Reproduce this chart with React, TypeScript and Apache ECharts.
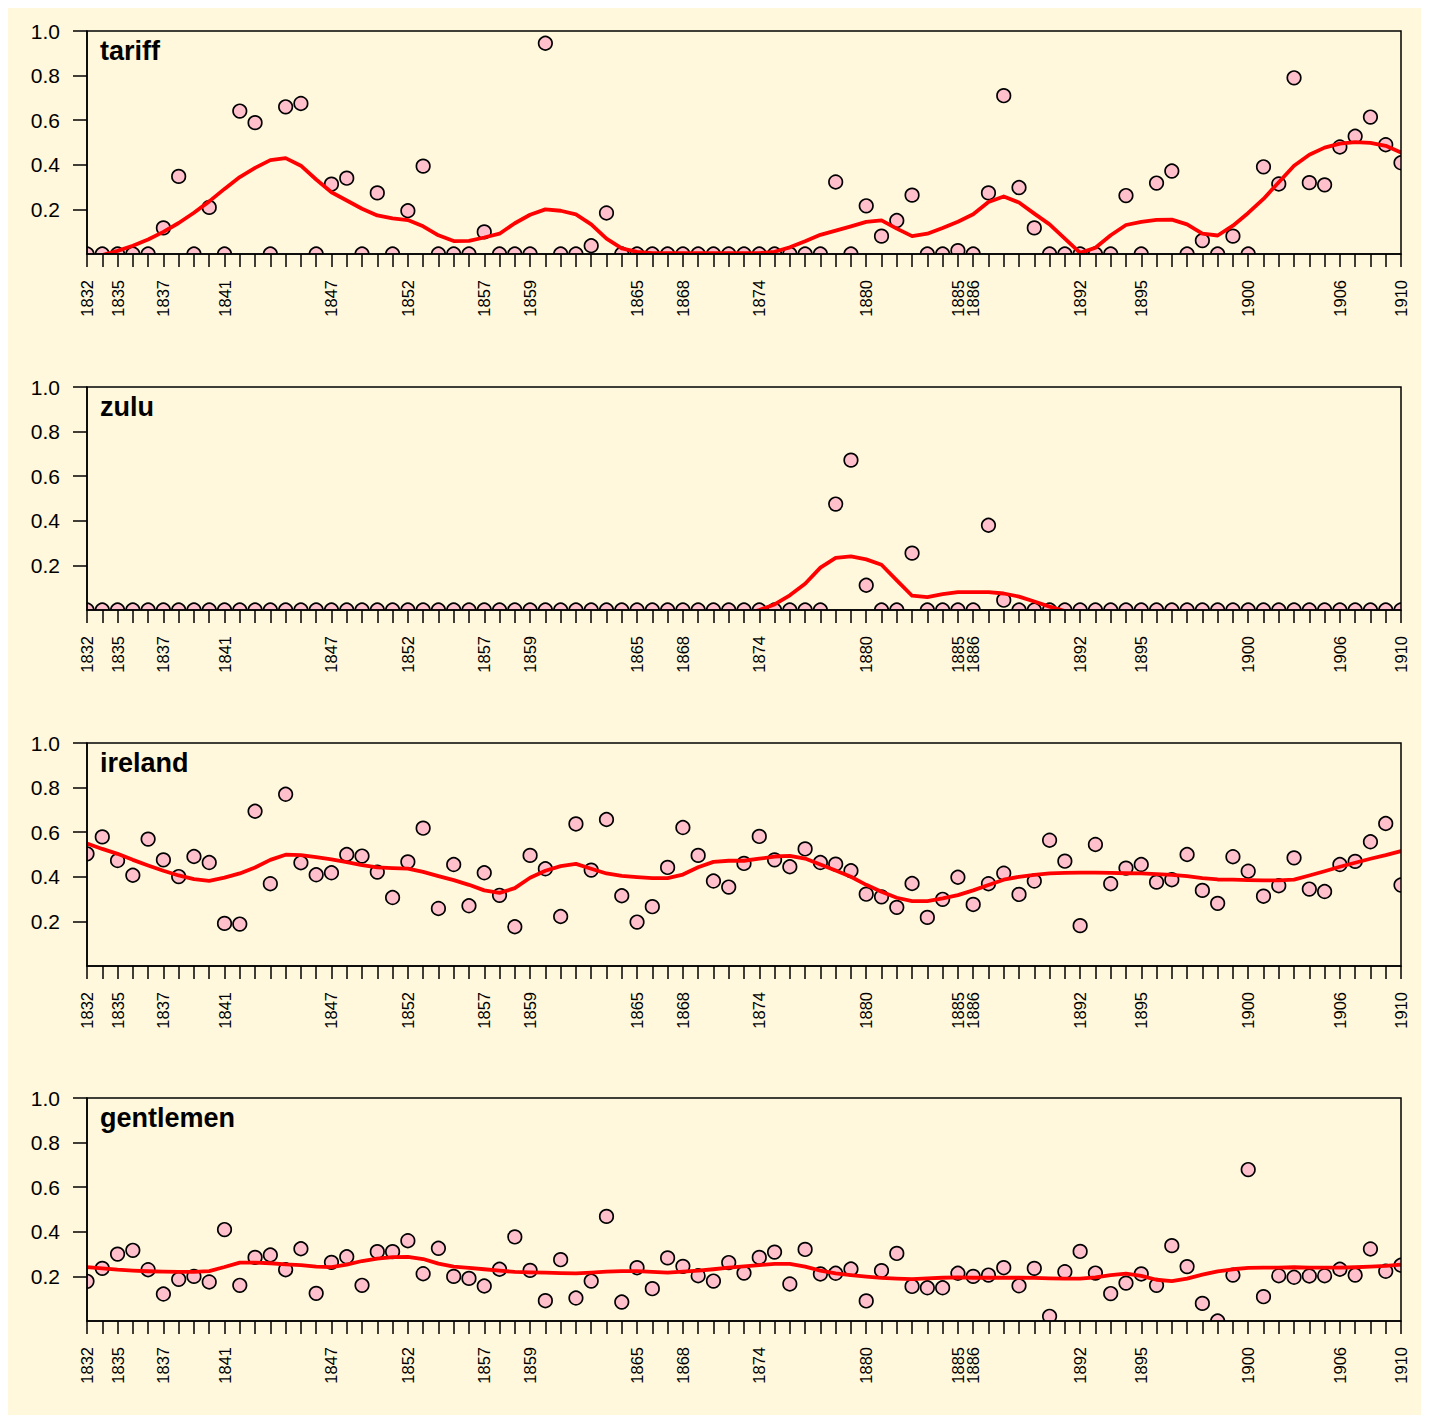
import React, { useEffect, useRef } from "react";
import * as echarts from "echarts";

// x positions: 87 sessions, labelled at these indices
const labelIdx = [0, 2, 5, 9, 16, 21, 26, 29, 36, 39, 44, 51, 57, 58, 65, 69, 76, 82, 86];
const labelYears = ["1832", "1835", "1837", "1841", "1847", "1852", "1857", "1859", "1865", "1868", "1874", "1880", "1885", "1886", "1892", "1895", "1900", "1906", "1910"];
const nSessions = 87;

const panelNames = ["tariff", "zulu", "ireland", "gentlemen"];
const yTicks = [0.2, 0.4, 0.6, 0.8, 1.0];

const tariffPts = [
  0, 0, 0, 0, 0, 0.117, 0.348, 0, 0.209, 0,
  0.641, 0.589, 0, 0.66, 0.675, 0, 0.313, 0.34, 0, 0.274,
  0, 0.194, 0.394, 0, 0, 0, 0.099, 0, 0, 0,
  0.945, 0, 0, 0.037, 0.184, 0, 0, 0, 0, 0,
  0, 0, 0, 0, 0, 0, 0, 0, 0, 0.323,
  0, 0.216, 0.08, 0.15, 0.264, 0, 0, 0.015, 0, 0.274,
  0.71, 0.298, 0.117, 0, 0, 0, 0, 0, 0.262, 0,
  0.318, 0.372, 0, 0.06, 0, 0.08, 0, 0.391, 0.314, 0.79,
  0.32, 0.31, 0.48, 0.528, 0.614, 0.49, 0.409,
];
const tariffFit = [
  -0.02, -0.005, 0.014, 0.037, 0.065, 0.099, 0.139, 0.185, 0.236, 0.292,
  0.345, 0.386, 0.421, 0.43, 0.396, 0.334, 0.277, 0.24, 0.203, 0.173,
  0.16, 0.152, 0.124, 0.084, 0.058, 0.059, 0.074, 0.091, 0.138, 0.176,
  0.2, 0.194, 0.178, 0.133, 0.069, 0.025, 0.01, 0.004, 0.004, 0.004,
  0.004, 0.004, 0.004, 0.004, 0.004, 0.01, 0.03, 0.057, 0.086, 0.105,
  0.124, 0.144, 0.151, 0.114, 0.08, 0.091, 0.117, 0.145, 0.178, 0.233,
  0.258, 0.231, 0.181, 0.133, 0.069, 0.005, 0.028, 0.084, 0.13, 0.144,
  0.153, 0.154, 0.133, 0.091, 0.083, 0.127, 0.184, 0.247, 0.322, 0.396,
  0.445, 0.477, 0.495, 0.502, 0.498, 0.485, 0.455,
];

const zuluPts = [
  0, 0, 0, 0, 0, 0, 0, 0, 0, 0,
  0, 0, 0, 0, 0, 0, 0, 0, 0, 0,
  0, 0, 0, 0, 0, 0, 0, 0, 0, 0,
  0, 0, 0, 0, 0, 0, 0, 0, 0, 0,
  0, 0, 0, 0, 0, 0, 0, 0, 0, 0.475,
  0.672, 0.111, 0, 0, 0.255, 0, 0, 0, 0, 0.38,
  0.044, 0, 0, 0, 0, 0, 0, 0, 0, 0,
  0, 0, 0, 0, 0, 0, 0, 0, 0, 0,
  0, 0, 0, 0, 0, 0, 0,
];
const zuluFit = [
  -0.02, -0.02, -0.02, -0.02, -0.02, -0.02, -0.02, -0.02, -0.02, -0.02,
  -0.02, -0.02, -0.02, -0.02, -0.02, -0.02, -0.02, -0.02, -0.02, -0.02,
  -0.02, -0.02, -0.02, -0.02, -0.02, -0.02, -0.02, -0.02, -0.02, -0.02,
  -0.02, -0.02, -0.02, -0.02, -0.02, -0.02, -0.02, -0.02, -0.02, -0.02,
  -0.02, -0.02, -0.02, -0.02, 0, 0.025, 0.066, 0.118, 0.19, 0.234,
  0.24, 0.227, 0.203, 0.133, 0.064, 0.058, 0.071, 0.08, 0.08, 0.08,
  0.074, 0.06, 0.038, 0.015, -0.005, -0.02, -0.02, -0.02, -0.02, -0.02,
  -0.02, -0.02, -0.02, -0.02, -0.02, -0.02, -0.02, -0.02, -0.02, -0.02,
  -0.02, -0.02, -0.02, -0.02, -0.02, -0.02, -0.02,
];

const irelandPts = [
  0.503, 0.579, 0.473, 0.407, 0.569, 0.476, 0.401, 0.491, 0.464, 0.191,
  0.188, 0.694, 0.369, 0.77, 0.463, 0.409, 0.418, 0.5, 0.493, 0.421,
  0.307, 0.467, 0.618, 0.258, 0.455, 0.27, 0.418, 0.317, 0.176, 0.496,
  0.436, 0.222, 0.637, 0.43, 0.657, 0.315, 0.197, 0.266, 0.442, 0.621,
  0.496, 0.381, 0.354, 0.46, 0.581, 0.476, 0.445, 0.525, 0.464, 0.457,
  0.427, 0.322, 0.31, 0.263, 0.37, 0.218, 0.299, 0.398, 0.276, 0.369,
  0.416, 0.321, 0.381, 0.564, 0.47, 0.181, 0.545, 0.369, 0.439, 0.455,
  0.376, 0.387, 0.5, 0.339, 0.281, 0.49, 0.425, 0.313, 0.36, 0.485,
  0.345, 0.334, 0.455, 0.469, 0.557, 0.639, 0.363,
];
const irelandFit = [
  0.549, 0.525, 0.503, 0.476, 0.451, 0.427, 0.406, 0.39, 0.382, 0.396,
  0.415, 0.442, 0.476, 0.499, 0.497, 0.488, 0.478, 0.466, 0.452, 0.442,
  0.439, 0.437, 0.422, 0.403, 0.385, 0.364, 0.339, 0.328, 0.349, 0.396,
  0.427, 0.448, 0.458, 0.436, 0.415, 0.404, 0.399, 0.394, 0.394, 0.41,
  0.443, 0.467, 0.472, 0.472, 0.481, 0.491, 0.494, 0.482, 0.455, 0.428,
  0.4, 0.364, 0.333, 0.306, 0.291, 0.291, 0.303, 0.318, 0.339, 0.363,
  0.387, 0.4, 0.409, 0.415, 0.418, 0.419, 0.419, 0.418, 0.416, 0.415,
  0.412, 0.409, 0.403, 0.394, 0.388, 0.387, 0.385, 0.384, 0.384, 0.387,
  0.406, 0.425, 0.445, 0.463, 0.481, 0.497, 0.515,
];

const gentlemenPts = [
  0.178, 0.236, 0.3, 0.317, 0.23, 0.121, 0.187, 0.2, 0.175, 0.41,
  0.16, 0.285, 0.296, 0.23, 0.324, 0.124, 0.263, 0.288, 0.16, 0.311,
  0.311, 0.36, 0.212, 0.326, 0.2, 0.191, 0.157, 0.232, 0.377, 0.227,
  0.091, 0.275, 0.103, 0.179, 0.469, 0.085, 0.239, 0.145, 0.283, 0.245,
  0.203, 0.179, 0.262, 0.215, 0.285, 0.309, 0.166, 0.321, 0.211, 0.214,
  0.233, 0.09, 0.226, 0.303, 0.155, 0.149, 0.149, 0.214, 0.2, 0.206,
  0.239, 0.158, 0.236, 0.021, 0.221, 0.312, 0.215, 0.123, 0.17, 0.211,
  0.16, 0.338, 0.244, 0.079, 0.0, 0.206, 0.679, 0.109, 0.203, 0.196,
  0.202, 0.203, 0.232, 0.206, 0.323, 0.223, 0.25,
];
const gentlemenFit = [
  0.242, 0.236, 0.23, 0.226, 0.223, 0.221, 0.22, 0.22, 0.224, 0.242,
  0.262, 0.262, 0.259, 0.254, 0.251, 0.244, 0.242, 0.253, 0.269, 0.28,
  0.286, 0.288, 0.278, 0.257, 0.244, 0.238, 0.232, 0.226, 0.22, 0.218,
  0.217, 0.215, 0.214, 0.217, 0.221, 0.224, 0.224, 0.22, 0.217, 0.221,
  0.226, 0.232, 0.239, 0.245, 0.251, 0.256, 0.256, 0.244, 0.226, 0.214,
  0.206, 0.199, 0.193, 0.19, 0.188, 0.191, 0.194, 0.196, 0.194, 0.194,
  0.194, 0.194, 0.193, 0.191, 0.19, 0.19, 0.196, 0.206, 0.212, 0.202,
  0.185, 0.179, 0.19, 0.208, 0.223, 0.232, 0.238, 0.239, 0.239, 0.241,
  0.239, 0.239, 0.239, 0.241, 0.244, 0.247, 0.253,
];

const panelPts = [tariffPts, zuluPts, irelandPts, gentlemenPts];
const panelFit = [tariffFit, zuluFit, irelandFit, gentlemenFit];

const FONT = '"Liberation Sans", Arial, Helvetica, sans-serif';
const BG = "#FFF8DC";

export default function App() {
  const ref = useRef<HTMLDivElement>(null);

  useEffect(() => {
    if (!ref.current) return;
    const chart = echarts.init(ref.current, undefined, { renderer: "svg" });

    const xLabels: string[] = [];
    for (let i = 0; i < nSessions; i++) xLabels.push("");
    labelIdx.forEach((idx, j) => (xLabels[idx] = labelYears[j]));
    const cats = xLabels.map((_, i) => String(i));

    const tops = [23, 379, 735, 1090];
    const gridLeft = 79;
    const gridWidth = 1314;
    const gridHeight = 223;
    const black = "#000000";

    const grids: any[] = [];
    const xAxes: any[] = [];
    const yAxes: any[] = [];
    const series: any[] = [];
    const graphics: any[] = [];

    panelNames.forEach((name, k) => {
      const top = tops[k];
      grids.push({
        left: gridLeft,
        top,
        width: gridWidth,
        height: gridHeight,
        show: true,
        z: 10,
        borderColor: black,
        borderWidth: 1.5,
        backgroundColor: "transparent",
        containLabel: false,
        outerBoundsMode: "none",
      });
      xAxes.push({
        gridIndex: k,
        type: "category",
        z: 10,
        data: cats,
        boundaryGap: false,
        axisLine: { show: true, onZero: false, lineStyle: { color: black, width: 1.5 } },
        axisTick: { show: true, interval: 0, length: 13, lineStyle: { color: black, width: 1.5 } },
        axisLabel: {
          show: true,
          interval: 0,
          rotate: 90,
          margin: 26,
          fontSize: 16.5,
          fontFamily: FONT,
          color: black,
          hideOverlap: false,
          formatter: (v: string) => xLabels[Number(v)] || "",
        },
        splitLine: { show: false },
      });
      yAxes.push({
        gridIndex: k,
        type: "value",
        z: 10,
        min: 0,
        max: 1,
        interval: 0.2,
        axisLine: { show: true, onZero: false, lineStyle: { color: black, width: 1.5 } },
        axisTick: { show: true, length: 14, customValues: yTicks, lineStyle: { color: black, width: 1.5 } },
        axisLabel: {
          show: true,
          customValues: yTicks,
          margin: 27,
          fontSize: 21,
          fontFamily: FONT,
          color: black,
          formatter: (v: number) => (v === 0 ? "" : Number(v).toFixed(1)),
        },
        splitLine: { show: false },
      });
      series.push({
        type: "scatter",
        name: name + "-pts",
        xAxisIndex: k,
        yAxisIndex: k,
        data: panelPts[k],
        symbol: "circle",
        symbolSize: 13.5,
        clip: true,
        z: 2,
        itemStyle: { color: "#FFC0CB", borderColor: black, borderWidth: 1.7, opacity: 1 },
        emphasis: { disabled: true },
      });
      series.push({
        type: "line",
        name: name + "-fit",
        xAxisIndex: k,
        yAxisIndex: k,
        data: panelFit[k],
        showSymbol: false,
        symbol: "none",
        clip: true,
        z: 3,
        lineStyle: { color: "#FF0000", width: 3.8, cap: "round", join: "round" },
        emphasis: { disabled: true },
      });
      // masks that crop the markers at the plot frame (like a clipped plot region)
      const pad = 10;
      graphics.push(
        {
          type: "rect",
          silent: true,
          z: 5,
          shape: { x: gridLeft - pad, y: top + gridHeight, width: gridWidth + 2 * pad, height: pad },
          style: { fill: BG },
        },
        {
          type: "rect",
          silent: true,
          z: 5,
          shape: { x: gridLeft - pad, y: top - pad, width: pad, height: gridHeight + 2 * pad },
          style: { fill: BG },
        },
        {
          type: "rect",
          silent: true,
          z: 5,
          shape: { x: gridLeft + gridWidth, y: top - pad, width: pad, height: gridHeight + 2 * pad },
          style: { fill: BG },
        }
      );
      graphics.push({
        type: "text",
        left: 92,
        top: top + 6,
        z: 12,
        style: {
          text: name,
          font: "bold 27px " + FONT,
          fill: black,
        },
      });
    });

    chart.setOption({
      animation: false,
      backgroundColor: BG,
      grid: grids,
      xAxis: xAxes,
      yAxis: yAxes,
      series,
      graphic: graphics,
      tooltip: { show: false },
    });

    return () => chart.dispose();
  }, []);

  return (
    <div
      ref={ref}
      style={{
        width: 1413,
        height: 1407,
        backgroundColor: BG,
      }}
    />
  );
}
